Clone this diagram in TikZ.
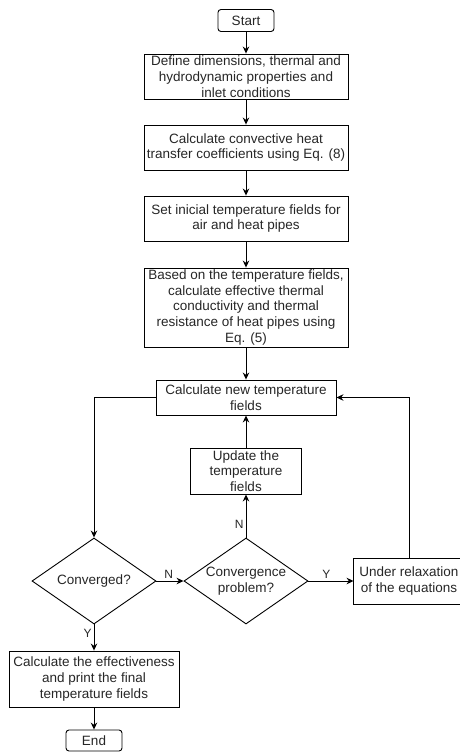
\documentclass[tikz,border=0pt]{standalone}
\usepackage{fontspec}
\setmainfont{Liberation Sans}
\usetikzlibrary{arrows.meta, positioning, shapes.geometric}

\tikzset{
  proc/.style = {draw, rectangle, align=center, inner xsep=2pt, inner ysep=0pt,
                 minimum width=204pt, minimum height=45pt},
  term/.style = {draw, rectangle, rounded corners=3pt, inner sep=0pt,
                 minimum width=56pt, minimum height=22pt},
  dec/.style  = {draw, diamond, aspect=1.44, align=center, inner sep=0pt,
                 minimum width=124pt, minimum height=86pt},
  lbl/.style  = {font=\fontsize{12}{14}\selectfont, inner sep=2pt}
}

\begin{document}
\begin{tikzpicture}[x=1pt, y=-1pt, on grid, line width=0.9pt,
    every node/.style={font=\fontsize{13.5}{15.8}\selectfont, text=black!85},
    >={Stealth[length=7pt, width=6.5pt]}]
  \useasboundingbox (0,0) rectangle (459,752);

  \node[term] (start) at (246,20.5) {Start};
  \node[proc] [below=56pt of start] (define) {Define dimensions, thermal and\\
    hydrodynamic properties and\\ inlet conditions};
  \node[proc] [below=71pt of define] (conv) {Calculate convective heat\\
    transfer coefficients using Eq. (8)};
  \node[proc] [below=71pt of conv] (init) {Set inicial temperature fields for\\
    air and heat pipes};
  \node[proc, minimum height=79pt] [below=89pt of init] (based) {Based on the temperature fields,\\
    calculate effective thermal\\ conductivity and thermal\\
    resistance of heat pipes using\\ Eq. (5)};
  \node[proc, minimum width=180pt, minimum height=35pt] [below=90pt of based] (calcnew)
    {Calculate new temperature\\ fields};
  \node[proc, minimum width=111pt, minimum height=46pt] [below=73.5pt of calcnew] (update)
    {Update the\\ temperature\\ fields};
  \node[dec] [below=110pt of update] (probl) {Convergence\\ problem?};
  \node[dec] [left=152pt of probl] (conver) {Converged?};
  \node[proc, draw=none, minimum width=110pt, minimum height=45pt]
    [right=163pt of probl] (relax) {Under relaxation\\ of the equations};
  \node[proc, minimum width=170pt, minimum height=56pt] [below=98pt of conver] (effect)
    {Calculate the effectiveness\\ and print the final\\ temperature fields};
  \node[term, minimum height=21pt] [below=61.5pt of effect] (end) {End};

  % box runs past the right edge of the page
  \draw ([xshift=12pt]relax.north east) -- (relax.north west)
    -- (relax.south west) -- ([xshift=12pt]relax.south east);

  \path[->]
    (start) edge (define)
    (define) edge (conv)
    (conv) edge (init)
    (init) edge (based)
    (based) edge (calcnew)
    (update) edge (calcnew)
    (probl) edge node[lbl, left, pos=0.3] {N} (update)
    (conver) edge node[lbl, above, pos=0.45] {N} (probl)
    (probl) edge node[lbl, above, pos=0.4] {Y} (relax)
    (conver) edge node[lbl, left, pos=0.35] {Y} (effect)
    (effect) edge (end);
  \draw[->] (calcnew.west) -| (conver.north);
  \draw[->] (relax.north) |- (calcnew.east);
\end{tikzpicture}
\end{document}
